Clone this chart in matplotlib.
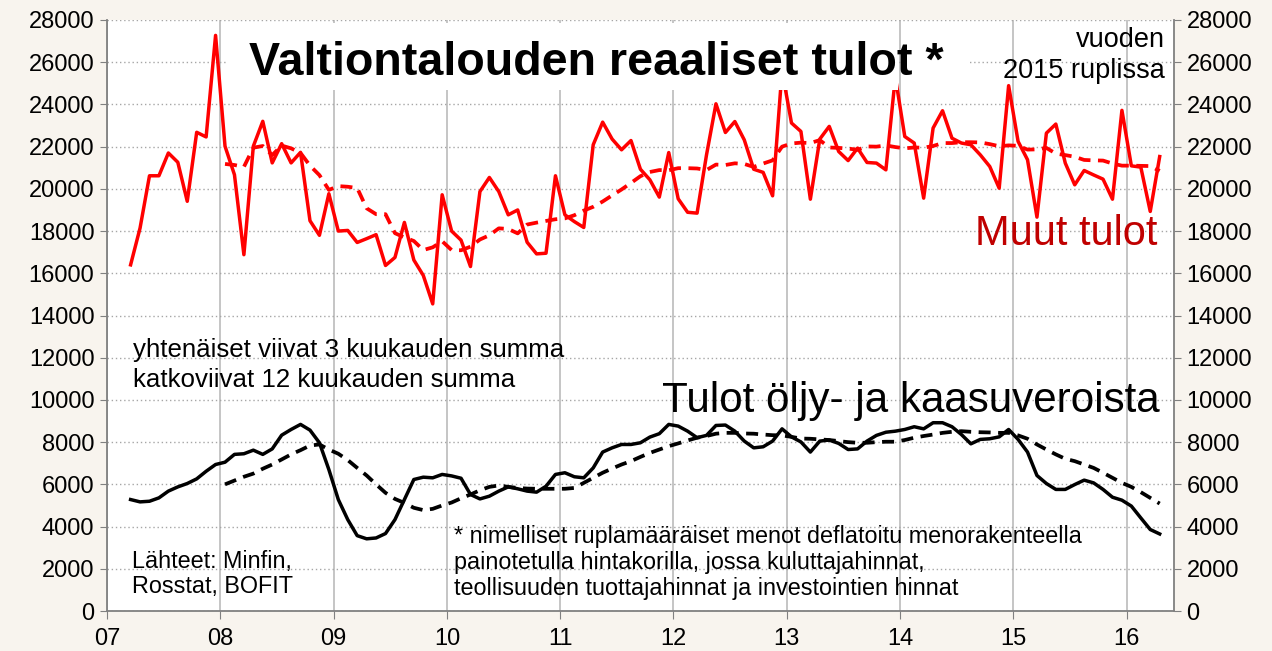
import matplotlib
matplotlib.use('Agg')
import matplotlib.pyplot as plt
from matplotlib.patches import Rectangle

plt.rcParams['font.family'] = ['Liberation Sans', 'DejaVu Sans']

# 3 kuukauden summat, 3/2007 - 4/2016 (vuoden 2015 ruplissa)
muut_3kk = [
    16400, 18140, 20620, 20620, 21700, 21260, 19410, 22680, 22460, 27270,
    22020, 20670, 16880, 22020, 23200, 21230, 22140, 21230, 21730, 18490, 17800, 19770,
    18000, 18030, 17460, 17640, 17830, 16370, 16750, 18410, 16630, 15900, 14550, 19720,
    18000, 17570, 16320, 19870, 20540, 19870, 18770, 19000, 17470, 16920, 16950, 20620,
    18770, 18450, 18170, 22090, 23160, 22360, 21850, 22290, 20930, 20430, 19610, 21720,
    19530, 18890, 18850, 21610, 24030, 22670, 23190, 22320, 20930, 20780, 19670, 25600,
    23120, 22720, 19510, 22360, 22960, 21770, 21340, 21930, 21250, 21220, 20900, 25300,
    22480, 22170, 19560, 22880, 23700, 22400, 22170, 22090, 21610, 21060, 20030, 24890,
    22250, 21380, 18660, 22640, 23070, 21220, 20190, 20870, 20660, 20460, 19510, 23720,
    21090, 21030, 18930, 21530,
]
oljy_3kk = [
    5280, 5170, 5200, 5360, 5680, 5880, 6040, 6260, 6620, 6940,
    7050, 7420, 7450, 7620, 7420, 7680, 8330, 8600, 8840, 8570, 7970, 6700,
    5280, 4330, 3570, 3420, 3460, 3670, 4330, 5280, 6230, 6340, 6310, 6470,
    6400, 6290, 5520, 5310, 5440, 5680, 5880, 5790, 5680, 5630, 5910, 6470,
    6550, 6360, 6310, 6780, 7530, 7730, 7890, 7890, 7970, 8240, 8400, 8840,
    8760, 8520, 8210, 8320, 8790, 8810, 8520, 8050, 7730, 7780, 8050, 8630,
    8250, 8010, 7530, 8050, 8100, 7940, 7650, 7680, 8050, 8320, 8470, 8520,
    8600, 8730, 8630, 8920, 8920, 8730, 8360, 7920, 8130, 8160, 8250, 8600,
    8130, 7530, 6420, 6040, 5760, 5760, 5990, 6200, 6070, 5760, 5390, 5250,
    4970, 4410, 3860, 3650,
]

# 12 kuukauden summat (skaalattu), 1/2008 - 4/2016
muut_12kk = [
    21180, 21130, 21040, 21950, 22030, 21600, 22050, 21920, 21700, 21100, 20650, 19950,
    20130, 20100, 20040, 19080, 18800, 18800, 17900, 17700, 17530, 17100, 17230, 17520,
    17100, 17090, 17260, 17600, 17800, 18130, 18100, 17890, 18310, 18400, 18480, 18560,
    18600, 18750, 18970, 19150, 19400, 19690, 19970, 20280, 20600, 20800, 20890, 20880,
    20980, 20980, 20965, 20890, 21150, 21130, 21210, 21180, 21040, 21200, 21350, 22000,
    22150, 22190, 22170, 22310, 21960, 21940, 21910, 21850, 22010, 22000, 22060, 21980,
    21920, 21960, 21950, 22030, 22170, 22170, 22210, 22210, 22200, 22120, 22020, 22060,
    22040, 21860, 21870, 21940, 21670, 21600, 21520, 21370, 21350, 21340, 21200, 21100,
    21100, 21090, 21080, 20850,
]
oljy_12kk = [
    6000, 6180, 6360, 6510, 6740, 6940, 7180, 7420, 7620, 7840, 7890, 7650,
    7450, 7150, 6780, 6420, 6000, 5600, 5310, 5120, 4890, 4780, 4840, 5000,
    5140, 5340, 5520, 5720, 5880, 5950, 5880, 5830, 5800, 5790, 5790, 5790,
    5790, 5830, 6070, 6310, 6550, 6750, 6940, 7100, 7300, 7490, 7650, 7810,
    7940, 8080, 8210, 8290, 8400, 8440, 8440, 8410, 8400, 8360, 8330, 8320,
    8250, 8170, 8160, 8130, 8100, 8050, 8000, 7970, 7970, 8000, 8020, 8020,
    8100, 8210, 8290, 8360, 8440, 8490, 8520, 8490, 8470, 8460, 8440, 8440,
    8320, 8160, 7890, 7650, 7420, 7210, 7100, 6940, 6780, 6550, 6310, 6070,
    5880, 5630, 5360, 5090,
]

vuodet = list(range(2007, 2017))
vuosi_labels = ['07', '08', '09', '10', '11', '12', '13', '14', '15', '16']
y_ticks = list(range(0, 28001, 2000))


def kuukaudet(alku_v, alku_kk, n):
    # kuukauden keskikohta desimaalivuotena
    return [alku_v + (alku_kk - 1 + i + 0.5) / 12 for i in range(n)]


x_3kk = kuukaudet(2007, 3, len(muut_3kk))
x_12kk = kuukaudet(2008, 1, len(muut_12kk))

TAUSTA = '#F8F4EE'
PUNAINEN = '#FF0000'
HARMAA = '#808080'

fig = plt.figure(figsize=(12.72, 6.51), dpi=100, facecolor=TAUSTA)
ax = fig.add_axes([107 / 1272, 40 / 651, 1067 / 1272, 591 / 651])
ax.set_facecolor('white')
ax.set_xlim(2007, 2016.418)
ax.set_ylim(0, 28000)

ax.set_axisbelow(True)
ax.grid(axis='x', color='#C0C0C0', lw=1.3, ls='-')
ax.grid(axis='y', color='#A6A6A6', lw=1.0, ls=(0, (1, 2)))

ax.plot(x_3kk, muut_3kk, color=PUNAINEN, lw=2.5, zorder=3)
ax.plot(x_12kk, muut_12kk, color=PUNAINEN, lw=2.7, dashes=(3.2, 2.0), zorder=3)
ax.plot(x_3kk, oljy_3kk, color='black', lw=2.5, zorder=3)
ax.plot(x_12kk, oljy_12kk, color='black', lw=2.7, dashes=(3.2, 2.0), zorder=3)

# otsikon valkoinen tausta peittaa viivat
ax.add_patch(Rectangle((2008.05, 24700), 5.935, 3160, facecolor='white',
                       edgecolor='none', zorder=4))
ax.add_patch(Rectangle((2014.03, 25300), 0.57, 1700, facecolor='white',
                       edgecolor='none', zorder=4))

ax.text(2011.316, 25394, 'Valtiontalouden reaaliset tulot *', ha='center',
        va='baseline', fontsize=33.6, fontweight='bold', zorder=5)
ax.text(2016.338, 26721, 'vuoden', ha='right', va='baseline', fontsize=19.5, zorder=5)
ax.text(2016.338, 25252, '2015 ruplissa', ha='right', va='baseline', fontsize=19.5, zorder=5)
ax.text(2016.268, 17340, 'Muut tulot', ha='right', va='baseline', fontsize=30,
        color='#C00000', zorder=5)
ax.text(2016.294, 9428, 'Tulot öljy- ja kaasuveroista', ha='right', va='baseline',
        fontsize=30.3, zorder=5)

ax.text(2007.229, 12034, 'yhtenäiset viivat 3 kuukauden summa', va='baseline',
        fontsize=18.6, zorder=5)
ax.text(2007.229, 10612, 'katkoviivat 12 kuukauden summa', va='baseline',
        fontsize=18.6, zorder=5)

ax.text(2007.221, 2051, 'Lähteet: Minfin,', va='baseline', fontsize=16.8, zorder=5)
ax.text(2007.221, 839, 'Rosstat, BOFIT', va='baseline', fontsize=16.8, zorder=5)

ax.text(2010.063, 3207, '* nimelliset ruplamääräiset menot deflatoitu menorakenteella',
        va='baseline', fontsize=16.8, zorder=5)
ax.text(2010.063, 1990, 'painotetulla hintakorilla, jossa kuluttajahinnat,',
        va='baseline', fontsize=16.8, zorder=5)
ax.text(2010.063, 758, 'teollisuuden tuottajahinnat ja investointien hinnat',
        va='baseline', fontsize=16.8, zorder=5)

ax.set_xticks(vuodet)
ax.set_xticklabels(vuosi_labels)
ax.set_yticks(y_ticks)
ax.set_yticklabels([str(v) for v in y_ticks])
ax.tick_params(axis='y', left=True, right=True, labelleft=True, labelright=True,
               direction='out', length=5, color=HARMAA, labelsize=17, pad=4)
ax.tick_params(axis='x', direction='out', length=6, color=HARMAA, labelsize=17, pad=6)

ax.spines['top'].set_visible(False)
for s in ('left', 'right', 'bottom'):
    ax.spines[s].set_color(HARMAA)
    ax.spines[s].set_linewidth(1.3)

fig.savefig('out.png', dpi=100, facecolor=TAUSTA)
plt.close(fig)
